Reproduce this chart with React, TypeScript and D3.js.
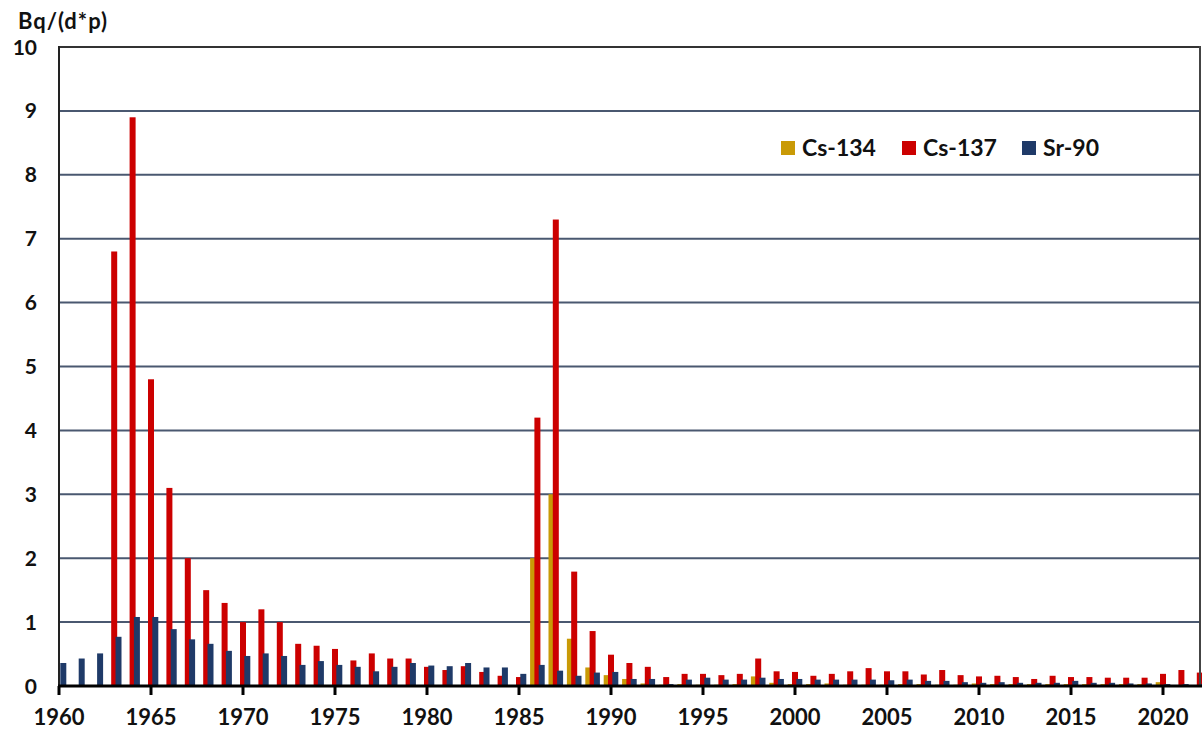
import React from "react";
import * as d3 from "d3";

const years: number[] = d3.range(1960, 2023);

const cs134: number[] = [
  0, 0, 0, 0, 0, 0, 0, 0, 0, 0,
  0, 0, 0, 0, 0, 0, 0, 0, 0, 0,
  0, 0, 0, 0, 0, 0, 2.0, 3.0, 0.74, 0.29,
  0.17, 0.11, 0.04, 0.02, 0.03, 0.02, 0.02, 0.03, 0.15, 0.05,
  0.03, 0.03, 0.04, 0.02, 0.02, 0.02, 0.03, 0.03, 0.02, 0.02,
  0.04, 0.03, 0.03, 0.03, 0.03, 0.03, 0.03, 0.03, 0.03, 0.03,
  0.06, 0.01, 0,
];

const cs137: number[] = [
  0, 0, 0, 6.8, 8.9, 4.8, 3.1, 2.0, 1.5, 1.3,
  1.0, 1.2, 1.0, 0.66, 0.63, 0.58, 0.4, 0.51, 0.43, 0.43,
  0.3, 0.25, 0.31, 0.22, 0.16, 0.14, 4.2, 7.3, 1.79, 0.86,
  0.49, 0.36, 0.3, 0.14, 0.19, 0.19, 0.17, 0.19, 0.43, 0.23,
  0.22, 0.16, 0.19, 0.23, 0.28, 0.23, 0.23, 0.18, 0.25, 0.17,
  0.15, 0.16, 0.14, 0.11, 0.16, 0.14, 0.14, 0.13, 0.13, 0.13,
  0.19, 0.25, 0.21,
];

const sr90: number[] = [
  0.36, 0.43, 0.51, 0.77, 1.08, 1.08, 0.89, 0.73, 0.66, 0.55,
  0.47, 0.51, 0.47, 0.33, 0.39, 0.33, 0.3, 0.23, 0.3, 0.36,
  0.32, 0.31, 0.36, 0.29, 0.29, 0.19, 0.33, 0.24, 0.16, 0.21,
  0.22, 0.11, 0.11, 0.03, 0.1, 0.13, 0.1, 0.1, 0.13, 0.11,
  0.11, 0.1, 0.1, 0.1, 0.1, 0.09, 0.1, 0.08, 0.08, 0.06,
  0.05, 0.06, 0.05, 0.05, 0.05, 0.08, 0.05, 0.05, 0.04, 0.04,
  0.03, 0.03, 0.03,
];

const seriesNames: string[] = ["Cs-134", "Cs-137", "Sr-90"];
const seriesColors: string[] = ["#C99A06", "#CC0000", "#1F3A68"];
const seriesData: number[][] = [cs134, cs137, sr90];
const seriesOffsets: number[] = [-4.3, 0, 4.3];

const yTicks: number[] = d3.range(0, 11);
const xTicks: number[] = d3.range(1960, 2021, 5);

const FONT = "Lato, 'Open Sans', sans-serif";

export default function App() {
  const W = 1202;
  const H = 729;
  const left = 59;
  const right = 1200;
  const top = 47;
  const bottom = 686;

  const x = d3.scaleLinear().domain([1960, 2020]).range([left, 1163]);
  const y = d3.scaleLinear().domain([0, 10]).range([bottom, top]);
  const barW = 6;

  const legendX = [781, 902, 1022];

  return (
    <svg
      width={W}
      height={H}
      style={{ position: "absolute", left: 0, top: 0, background: "#fff" }}
      fontFamily={FONT}
    >
      <rect x={0} y={0} width={W} height={H} fill="#fff" />
      {/* gridlines */}
      {yTicks.filter((t) => t > 0).map((t) => (
        <line
          key={"g" + t}
          x1={left}
          x2={right}
          y1={y(t)}
          y2={y(t)}
          stroke={t === 10 ? "#333" : "#4a5870"}
          strokeWidth={2}
        />
      ))}
      {/* bars */}
      {seriesData.map((data, si) => (
        <g key={"s" + si} fill={seriesColors[si]}>
          {data.map((v, i) =>
            v > 0 ? (
              <rect
                key={i}
                x={x(years[i]) + seriesOffsets[si] - barW / 2}
                y={y(v)}
                width={barW}
                height={y(0) - y(v)}
              />
            ) : null
          )}
        </g>
      ))}
      {/* axes */}
      <line x1={left} x2={left} y1={top - 1} y2={bottom} stroke="#222" strokeWidth={2} />
      <line x1={right} x2={right} y1={top - 1} y2={bottom} stroke="#444" strokeWidth={2} />
      <line x1={left - 1} x2={W} y1={bottom} y2={bottom} stroke="#000" strokeWidth={3} />
      {xTicks.map((t) => (
        <line
          key={"xt" + t}
          x1={x(t)}
          x2={x(t)}
          y1={bottom}
          y2={bottom + 9}
          stroke="#000"
          strokeWidth={3}
        />
      ))}
      {/* y labels */}
      {yTicks.map((t) => (
        <text
          key={"yl" + t}
          x={37}
          y={y(t)}
          dy="0.36em"
          textAnchor="end"
          fontSize={21}
          fontWeight="bold"
          fill="#111"
        >
          {t}
        </text>
      ))}
      {/* x labels */}
      {xTicks.map((t) => (
        <text
          key={"xl" + t}
          x={x(t)}
          y={725}
          textAnchor="middle"
          fontSize={22}
          fontWeight="bold"
          fill="#111"
        >
          {t}
        </text>
      ))}
      {/* unit title */}
      <text x={18} y={29} fontSize={22} fontWeight="bold" fill="#111" textLength={89} lengthAdjust="spacing">
        Bq/(d*p)
      </text>
      {/* legend */}
      {seriesNames.map((name, i) => (
        <g key={"lg" + i}>
          <rect x={legendX[i]} y={141} width={14} height={14} fill={seriesColors[i]} />
          <text x={legendX[i] + 21} y={156} fontSize={23} fontWeight="bold" fill="#111">
            {name}
          </text>
        </g>
      ))}
    </svg>
  );
}
